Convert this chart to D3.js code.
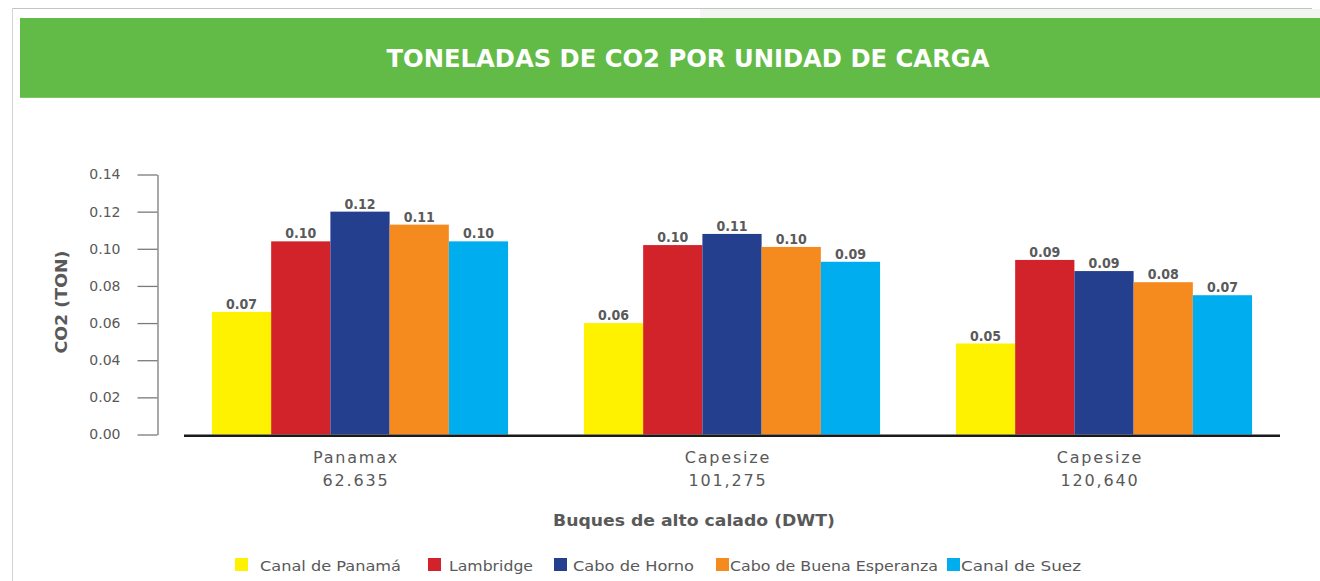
<!DOCTYPE html>
<html>
<head>
<meta charset="utf-8">
<script src="https://cdn.jsdelivr.net/npm/d3@7"></script>
<style>
  html, body { margin: 0; padding: 0; background: #ffffff; }
  svg { display: block; }
</style>
</head>
<body>
<svg id="chart" width="1320" height="581"></svg>
<script>
// ---------------- DATA ----------------
const chartTitle = "TONELADAS DE CO2 POR UNIDAD DE CARGA";
const yAxisTitle = "CO2 (TON)";
const xAxisTitle = "Buques de alto calado (DWT)";
const categories = ["Panamax", "Capesize", "Capesize"];
const categoryDwt = ["62.635", "101,275", "120,640"];
const seriesNames = ["Canal de Panamá", "Lambridge", "Cabo de Horno", "Cabo de Buena Esperanza", "Canal de Suez"];
const canalPanama = [0.066, 0.060, 0.049];
const lambridge   = [0.104, 0.102, 0.094];
const caboHorno   = [0.120, 0.108, 0.088];
const caboBuena   = [0.113, 0.101, 0.082];
const canalSuez   = [0.104, 0.093, 0.075];
const yTicks = [0, 0.02, 0.04, 0.06, 0.08, 0.10, 0.12, 0.14];

// ---------------- STYLE / LAYOUT ----------------
const seriesColors = ["#FFF200", "#D2232A", "#243F8D", "#F58A1F", "#00AEEF"];
const textGrey = "#595959";
const seriesValues = [canalPanama, lambridge, caboHorno, caboBuena, canalSuez];

const svg = d3.select("#chart");

// frame + banner
svg.append("rect").attr("x", 700).attr("y", 9).attr("width", 620).attr("height", 9).attr("fill", "#f3f5f0");
svg.append("line").attr("x1", 12).attr("x2", 1312).attr("y1", 8.5).attr("y2", 8.5)
  .attr("stroke", "#c4c4c4").attr("stroke-width", 1);
svg.append("line").attr("x1", 12.5).attr("x2", 12.5).attr("y1", 8).attr("y2", 581)
  .attr("stroke", "#d4d4d4").attr("stroke-width", 1);
svg.append("rect").attr("x", 20).attr("y", 18).attr("width", 1300).attr("height", 80).attr("fill", "#62BB46");
svg.append("line").attr("x1", 20).attr("x2", 1320).attr("y1", 97.5).attr("y2", 97.5)
  .attr("stroke", "#7cc864").attr("stroke-width", 1);

svg.append("text")
  .attr("x", 688).attr("y", 67)
  .attr("text-anchor", "middle")
  .attr("fill", "#ffffff")
  .attr("font-family", "'DejaVu Sans', 'Liberation Sans', sans-serif")
  .attr("font-weight", "bold")
  .attr("font-size", 25)
  .attr("textLength", 603)
  .attr("lengthAdjust", "spacingAndGlyphs")
  .text(chartTitle);

// scales
const x0 = d3.scaleBand().domain(d3.range(categories.length))
  .range([174, 1290]).paddingInner(0.204).paddingOuter(0.102);
const x1 = d3.scaleBand().domain(d3.range(seriesNames.length))
  .range([0, x0.bandwidth()]).padding(0);
const y = d3.scaleLinear().domain([0, 0.14]).range([434.5, 174.5]);

// y axis
const yAxis = d3.axisLeft(y).tickValues(yTicks).tickFormat(d3.format(".2f"))
  .tickSizeInner(20).tickSizeOuter(0).tickPadding(17);
const yg = svg.append("g").attr("transform", "translate(157.5,0)").call(yAxis);
yg.select(".domain").attr("stroke", "#7a7a7a").attr("stroke-width", 1.3);
yg.selectAll(".tick line").attr("stroke", "#7a7a7a").attr("stroke-width", 1.3);
yg.selectAll(".tick text")
  .attr("fill", textGrey)
  .attr("font-family", "'DejaVu Sans', 'Liberation Sans', sans-serif")
  .attr("font-size", 14);

// y axis title
svg.append("text")
  .attr("transform", "translate(67,302) rotate(-90)")
  .attr("text-anchor", "middle")
  .attr("fill", textGrey)
  .attr("font-family", "'DejaVu Sans', 'Liberation Sans', sans-serif")
  .attr("font-weight", "bold")
  .attr("font-size", 15)
  .attr("textLength", 103)
  .attr("lengthAdjust", "spacingAndGlyphs")
  .text(yAxisTitle);

// bars
const groups = svg.append("g").selectAll("g")
  .data(categories.map((c, i) => i))
  .join("g")
  .attr("transform", i => `translate(${x0(i)},0)`);

groups.selectAll("rect")
  .data(i => seriesValues.map((vals, s) => ({ s, v: vals[i] })))
  .join("rect")
  .attr("x", d => x1(d.s))
  .attr("y", d => y(d.v))
  .attr("width", x1.bandwidth())
  .attr("height", d => y(0) - y(d.v))
  .attr("fill", d => seriesColors[d.s]);

groups.selectAll("text")
  .data(i => seriesValues.map((vals, s) => ({ s, v: vals[i] })))
  .join("text")
  .attr("x", d => x1(d.s) + x1.bandwidth() / 2)
  .attr("y", d => y(d.v) - 3)
  .attr("text-anchor", "middle")
  .attr("fill", "#5a5a5a")
  .attr("font-family", "'DejaVu Sans Condensed', 'DejaVu Sans', sans-serif")
  .attr("font-stretch", "condensed")
  .attr("font-weight", "bold")
  .attr("font-size", 14)
  .text(d => d.v.toFixed(2));

// baseline
svg.append("line")
  .attr("x1", 184).attr("x2", 1280)
  .attr("y1", y(0) + 1.2).attr("y2", y(0) + 1.2)
  .attr("stroke", "#1a1a1a").attr("stroke-width", 2.6);

// category labels
const catFont = "'DejaVu Sans', 'Liberation Sans', sans-serif";
svg.append("g").selectAll("text")
  .data(categories.map((c, i) => i))
  .join("text")
  .attr("x", i => x0(i) + x0.bandwidth() / 2 - 4)
  .attr("y", 463)
  .attr("text-anchor", "middle")
  .attr("fill", textGrey)
  .attr("font-family", catFont)
  .attr("font-size", 16)
  .attr("letter-spacing", 1.8)
  .text(i => categories[i]);
svg.append("g").selectAll("text")
  .data(categories.map((c, i) => i))
  .join("text")
  .attr("x", i => x0(i) + x0.bandwidth() / 2 - 4)
  .attr("y", 486)
  .attr("text-anchor", "middle")
  .attr("fill", textGrey)
  .attr("font-family", catFont)
  .attr("font-size", 16)
  .attr("letter-spacing", 1.8)
  .text(i => categoryDwt[i]);

// x axis title
svg.append("text")
  .attr("x", 694).attr("y", 526)
  .attr("text-anchor", "middle")
  .attr("fill", textGrey)
  .attr("font-family", catFont)
  .attr("font-weight", "bold")
  .attr("font-size", 15)
  .attr("textLength", 282)
  .attr("lengthAdjust", "spacingAndGlyphs")
  .text(xAxisTitle);

// legend
const legendSquareX = [235, 428, 554, 716, 947];
const legendTextX = [260, 449, 573, 730, 961];
const legendTextW = [141, 84, 121, 208, 120];
const lg = svg.append("g");
lg.selectAll("rect")
  .data(seriesNames.map((n, i) => i))
  .join("rect")
  .attr("x", i => legendSquareX[i])
  .attr("y", 558)
  .attr("width", 13).attr("height", 13)
  .attr("fill", i => seriesColors[i]);
lg.selectAll("text")
  .data(seriesNames.map((n, i) => i))
  .join("text")
  .attr("x", i => legendTextX[i])
  .attr("y", 571)
  .attr("fill", textGrey)
  .attr("font-family", catFont)
  .attr("font-size", 14)
  .attr("textLength", i => legendTextW[i])
  .attr("lengthAdjust", "spacingAndGlyphs")
  .text(i => seriesNames[i]);
</script>
</body>
</html>
